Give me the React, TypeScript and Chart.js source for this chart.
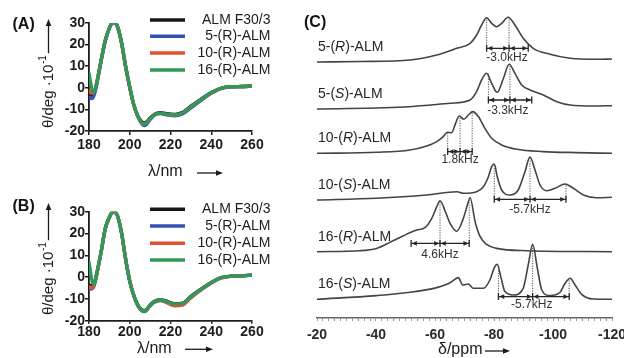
import React, { useEffect, useRef } from 'react';
import { Chart, registerables } from 'chart.js';

Chart.register(...registerables);

const FONT = '"Liberation Sans", Arial, Helvetica, sans-serif';
Chart.defaults.font.family = FONT;

// ================= Panels (A) and (B): CD spectra =================
const wavelengths = [180, 181, 182, 183, 184, 186, 188, 190, 191, 192, 193, 194, 196, 198, 200, 202, 204, 206, 207, 208, 210, 212, 215, 218, 222, 226, 230, 235, 240, 245, 250, 255, 260];
const seriesNames = ['ALM F30/3', '5-(R)-ALM', '10-(R)-ALM', '16-(R)-ALM'];
const seriesColors = ['#161616', '#3552b4', '#e4512f', '#2f9a57'];

const panelA_F30 = [-2.5, -3.5, -3, -1, 3, 13, 22, 27.8, 29.6, 30.3, 29.8, 28.2, 20.5, 9.5, 0, -8, -13, -15.8, -16.3, -16, -14, -12.3, -11.5, -12, -12.3, -11.3, -8.5, -5.2, -2.2, -0.1, 0.5, 0.6, 0.8];
const panelA_R5 = [-4, -5, -4.5, -2, 2.5, 12.5, 21.5, 27.5, 29.4, 30.2, 29.8, 28.3, 20.8, 10, 0.5, -8, -13.5, -16.8, -17.5, -17.2, -14.8, -12.8, -12, -12.5, -13, -12, -9.3, -5.8, -2.6, -0.3, 0.4, 0.6, 0.8];
const panelA_R10 = [-1, -2.5, -2.5, -0.5, 3.5, 13, 22, 27.8, 29.6, 30.3, 29.8, 28.2, 20.6, 9.8, 0.3, -8, -13.2, -16.2, -16.8, -16.5, -14.3, -12.5, -11.8, -12.3, -12.6, -11.6, -8.8, -5.4, -2.4, -0.2, 0.5, 0.6, 0.8];
const panelA_R16 = [7, 1.5, -2, -1, 3, 13, 22, 27.8, 29.7, 30.4, 30, 28.5, 21, 10, 0.5, -7.8, -13.2, -16.3, -16.8, -16.5, -14.3, -12.5, -11.7, -12.2, -12.6, -11.6, -8.8, -5.4, -2.3, -0.2, 0.5, 0.6, 0.8];

const panelB_F30 = [-3.5, -4, -3.5, -1.5, 2.5, 12, 22.5, 27.5, 29.3, 30, 29.6, 28, 20, 8, -2, -8.5, -12.8, -15, -15.3, -15, -12.8, -11.2, -10.3, -11, -12.2, -11.9, -8.8, -5.5, -2.4, -0.2, 0.4, 0.6, 0.9];
const panelB_R5 = [-5, -5.5, -5, -2.5, 2, 11.5, 22, 27.3, 29.2, 30, 29.6, 28, 20.2, 8.3, -1.7, -8.5, -13.2, -15.5, -15.8, -15.5, -13.2, -11.6, -10.8, -11.6, -13, -12.6, -9.4, -5.9, -2.7, -0.4, 0.4, 0.6, 0.9];
const panelB_R10 = [-4, -5, -4.5, -2, 2.3, 11.8, 22.3, 27.4, 29.3, 30, 29.6, 28, 20.1, 8.2, -1.8, -8.5, -13, -15.3, -15.6, -15.3, -13, -11.4, -10.6, -11.5, -13.2, -12.8, -9.4, -5.8, -2.6, -0.3, 0.4, 0.6, 0.9];
const panelB_R16 = [7, 1, -3.5, -2, 2.5, 12, 22.5, 27.5, 29.4, 30.1, 29.7, 28.1, 20.2, 8.2, -1.8, -8.4, -12.9, -15.2, -15.5, -15.2, -12.9, -11.3, -10.4, -11.2, -12.3, -12, -8.9, -5.6, -2.5, -0.2, 0.4, 0.6, 0.9];

const cdXMin = 180, cdXMax = 260, cdXStep = 20;
const cdYMin = -20, cdYMax = 30, cdYStep = 10;

// ================= Panel (C): 2H NMR spectra =================
const spectrumNumbers = ['5', '5', '10', '10', '16', '16'];
const spectrumConfigs = ['R', 'S', 'R', 'S', 'R', 'S'];

const ppm5R = [-20, -35, -51.5, -60.6, -67.4, -71.9, -74.1, -75.8, -77.5, -79.2, -80.9, -82.6, -84.8, -87.1, -89.9, -93.3, -99, -105.8, -114.8, -120];
const int5R = [0, 0.5, 2, 7, 13.7, 18.7, 27, 37, 44.3, 38.7, 35.3, 38.7, 44.7, 37, 23.7, 13.7, 7.7, 3.7, 2.7, 3];
const ppm5S = [-20, -51.5, -65.1, -71.9, -74.1, -75.8, -77.5, -79.2, -81.1, -83.2, -85.1, -87.1, -89.4, -92.2, -96.7, -101.3, -105.8, -113.7, -120];
const int5S = [0, 2.3, 5.7, 9, 17.3, 29, 35.7, 25.7, 16.7, 30.7, 44.7, 35.7, 24, 19, 14, 7.3, 4, 3, 3.3];
const ppm10R = [-20, -40.2, -51.5, -57.2, -60.6, -62.8, -64.2, -65.6, -67.1, -68.2, -69.8, -71.3, -72.8, -74.7, -76.9, -79.2, -82.6, -87.7, -96.7, -108, -120];
const int10R = [0, 1, 3.3, 7.3, 11.7, 16.7, 21, 20.5, 31, 37.3, 34, 38.3, 41.7, 36.7, 25, 15, 8.3, 4, 1.7, 0.7, 0];
const ppm10S = [-20, -40.2, -57.2, -67.4, -69.6, -74.1, -76.4, -78.1, -79.2, -80.1, -81.1, -82.6, -85.4, -88.2, -90.5, -92.2, -93.9, -95.6, -97.9, -100.7, -104.1, -106.9, -110.3, -114.8, -120];
const int10S = [0, 1.7, 5, 8.3, 6.7, 8.3, 13.3, 23.3, 33.3, 36, 23.3, 10, 5, 10, 28.3, 43, 30, 15, 9.3, 11.7, 16, 11.7, 5, 2.3, 2.7];
const ppm16R = [-20, -34.6, -40.2, -44.7, -49.3, -53.8, -56.6, -58.9, -60.6, -61.7, -63.4, -65.1, -67.4, -69.6, -70.9, -71.9, -73.6, -75.3, -77.5, -80.9, -91.1, -120];
const int16R = [0, 1, 3.3, 9.3, 16, 21.7, 24, 33.3, 45, 51, 41, 28.3, 20.5, 33.3, 46, 54, 30, 15, 7.3, 3.3, 1, 0];
const ppm16S = [-20, -40.2, -51.5, -60.6, -64, -65.7, -67.9, -69.4, -71.3, -73, -76.4, -78.6, -80, -81.1, -82.3, -83.7, -86.5, -89.9, -91.6, -93.1, -94.7, -96.2, -99, -102.4, -104.1, -105.8, -107.5, -109.7, -113.7, -120];
const int16S = [0, 3.7, 7, 11.7, 15, 17.7, 21.7, 14.3, 15.3, 11, 11, 19.3, 31, 35, 22.7, 7.7, 4.3, 11, 34.3, 55, 31, 9.3, 3.7, 7, 16, 21, 14.3, 5, 0.3, 0];

const spectraPpm = [ppm5R, ppm5S, ppm10R, ppm10S, ppm16R, ppm16S];
const spectraInt = [int5R, int5S, int10R, int10S, int16R, int16S];

const ppmMin = -120, ppmMax = -20, ppmMinorStep = 2, ppmLabelStep = 20;

// quadrupolar splittings (ppm positions, bracket level, peak tops, label)
const splitLabels = ['-3.0kHz', '-3.3kHz', '1.8kHz', '-5.7kHz', '4.6kHz', '-5.7kHz'];
const splitPpm = [[-77.5, -85.1, -91.6], [-78.1, -85.4, -92.8], [-64.3, -68.5, -72.6], [-80.1, -92.2, -104.4], [-51.9, -61.7, -71.6], [-81.5, -93.1, -105.5]];
const splitLevel = [13.7, 9, 1.7, 0.7, 8.3, 2.7];
const splitPeakTop = [[44.3, 44.7, null], [35.7, 44.7, null], [21, 37.3, 41.7], [36, 43, 16], [null, 51, 54], [35, 55, 21]];
const splitLabelPpm = [-84.4, -84.7, -68.5, -92.2, -61.7, -92.8];
const splitLabelLevel = [4.5, -2, -6.7, -9.5, -2.6, -5.7];

// per-spectrum axis range (intensity units)
const spectrumAxisMin = [-18, -18.6, -21.9, -22.8, -18.7, -18.7];
const SPECTRUM_SPAN = 47.6;

// ================= helpers =================
function arrowHead(ctx: CanvasRenderingContext2D, x: number, y: number, angle: number, len: number, half: number) {
  ctx.save();
  ctx.translate(x, y);
  ctx.rotate(angle);
  ctx.beginPath();
  ctx.moveTo(0, 0);
  ctx.lineTo(-len, -half);
  ctx.lineTo(-len, half);
  ctx.closePath();
  ctx.fill();
  ctx.restore();
}

type CdPanel = {
  letter: string;
  series: number[][];
  height: number;
  top: number;
  xAxisH: number;
  tickLen: number;
  tickPad: number;
  letterY: number;
  legendRows: number[];
  yTitleBottom: number;
  yArrowTip: number;
  xTitleX: number;
  xTitleY: number;
  xArrow: number[];
};

function cdConfig(p: CdPanel): any {
  const decor = {
    id: 'cdDecor' + p.letter,
    afterDraw(chart: any) {
      const ctx: CanvasRenderingContext2D = chart.ctx;
      ctx.save();
      ctx.textBaseline = 'middle';
      ctx.textAlign = 'left';
      ctx.fillStyle = '#141414';
      ctx.font = `bold 16px ${FONT}`;
      ctx.fillText(`(${p.letter})`, 12.5, p.letterY);
      // legend
      seriesNames.forEach((name, i) => {
        const y = p.legendRows[i];
        ctx.strokeStyle = seriesColors[i];
        ctx.lineWidth = 3.5;
        ctx.beginPath();
        ctx.moveTo(150, y);
        ctx.lineTo(185, y);
        ctx.stroke();
        ctx.fillStyle = '#1c1c1c';
        ctx.font = `14px ${FONT}`;
        ctx.textAlign = 'right';
        ctx.fillText(name, 270.5, y);
      });
      // y title (rotated) with arrow
      ctx.save();
      ctx.translate(48.5, p.yTitleBottom);
      ctx.rotate(-Math.PI / 2);
      ctx.textAlign = 'left';
      ctx.fillStyle = '#1c1c1c';
      ctx.font = `15px ${FONT}`;
      const main = 'θ/deg ·10';
      ctx.fillText(main, 0, 0);
      let w = ctx.measureText(main).width;
      ctx.font = `10px ${FONT}`;
      ctx.fillText('-1', w + 0.5, -5);
      w += ctx.measureText('-1').width + 0.5;
      const len = p.yTitleBottom - p.yArrowTip;
      ctx.strokeStyle = '#1c1c1c';
      ctx.lineWidth = 1.3;
      ctx.beginPath();
      ctx.moveTo(w + 2, 0);
      ctx.lineTo(len - 5, 0);
      ctx.stroke();
      arrowHead(ctx, len, 0, 0, 7, 2.8);
      ctx.restore();
      // x title with arrow
      ctx.textAlign = 'left';
      ctx.fillStyle = '#1c1c1c';
      ctx.font = `16px ${FONT}`;
      ctx.fillText('λ/nm', p.xTitleX, p.xTitleY);
      ctx.strokeStyle = '#1c1c1c';
      ctx.lineWidth = 1.3;
      ctx.beginPath();
      ctx.moveTo(p.xArrow[0], p.xTitleY + 1);
      ctx.lineTo(p.xArrow[1] - 5, p.xTitleY + 1);
      ctx.stroke();
      arrowHead(ctx, p.xArrow[1], p.xTitleY + 1, 0, 7, 2.8);
      ctx.restore();
    },
  };

  const drawOrder = [3, 2, 1, 0];
  return {
    type: 'line',
    data: {
      datasets: seriesNames.map((name, i) => ({
        label: name,
        data: wavelengths.map((w, k) => ({ x: w, y: p.series[i][k] })),
        borderColor: seriesColors[i],
        backgroundColor: seriesColors[i],
        borderWidth: 3.3,
        pointRadius: 0,
        cubicInterpolationMode: 'monotone',
        fill: false,
        order: drawOrder[i],
      })),
    },
    options: {
      animation: false,
      responsive: false,
      events: [],
      layout: { autoPadding: false, padding: { left: 0, top: p.top, right: 58, bottom: 0 } },
      plugins: { legend: { display: false }, tooltip: { enabled: false }, title: { display: false } },
      scales: {
        x: {
          type: 'linear',
          min: cdXMin,
          max: cdXMax,
          ticks: { stepSize: cdXStep, autoSkip: false, maxRotation: 0, padding: p.tickPad, color: '#1c1c1c', font: { size: 14, weight: 'bold' } },
          grid: { drawOnChartArea: false, drawTicks: true, tickLength: p.tickLen, color: '#1c1c1c', lineWidth: 1.5 },
          border: { color: '#1c1c1c', width: 1.8 },
          afterFit(s: any) { s.height = p.xAxisH; s.paddingLeft = 0; s.paddingRight = 0; },
        },
        y: {
          type: 'linear',
          min: cdYMin,
          max: cdYMax,
          ticks: { stepSize: cdYStep, autoSkip: false, padding: 0, color: '#1c1c1c', font: { size: 14, weight: 'bold' } },
          grid: { drawOnChartArea: false, drawTicks: true, tickLength: 4, color: '#1c1c1c', lineWidth: 1.5 },
          border: { color: '#1c1c1c', width: 1.8 },
          afterFit(s: any) { s.width = 89; s.paddingTop = 0; s.paddingBottom = 0; },
        },
      },
    },
    plugins: [decor],
  };
}

function nmrConfig(): any {
  const yScales: any = {};
  spectraPpm.forEach((_, i) => {
    yScales['y' + i] = {
      type: 'linear',
      position: 'left',
      stack: 'spectra',
      stackWeight: 1,
      weight: 6 - i,
      min: spectrumAxisMin[i],
      max: spectrumAxisMin[i] + SPECTRUM_SPAN,
      ticks: { display: false },
      grid: { display: false, drawTicks: false },
      border: { display: false },
      afterFit(s: any) { s.width = 0; s.paddingTop = 0; s.paddingBottom = 0; },
    };
  });

  const decor = {
    id: 'nmrDecor',
    afterDraw(chart: any) {
      const ctx: CanvasRenderingContext2D = chart.ctx;
      const xs = chart.scales.x;
      ctx.save();
      ctx.textBaseline = 'middle';
      ctx.textAlign = 'left';
      ctx.fillStyle = '#141414';
      ctx.font = `bold 16px ${FONT}`;
      ctx.fillText('(C)', 9, 23);
      for (let i = 0; i < spectraPpm.length; i++) {
        const ys = chart.scales['y' + i];
        // spectrum name with italic configuration letter
        let x = 23;
        const y = ys.getPixelForValue(15);
        const parts: [string, boolean][] = [[spectrumNumbers[i] + '-(', false], [spectrumConfigs[i], true], [')-ALM', false]];
        ctx.fillStyle = '#262626';
        ctx.textAlign = 'left';
        for (const [t, it] of parts) {
          ctx.font = `${it ? 'italic ' : ''}14px ${FONT}`;
          ctx.fillText(t, x, y);
          x += ctx.measureText(t).width;
        }
        // splitting bracket
        const px = splitPpm[i].map((v) => xs.getPixelForValue(v));
        const by = ys.getPixelForValue(splitLevel[i]);
        ctx.strokeStyle = '#555';
        ctx.lineWidth = 1;
        ctx.setLineDash([1.2, 1.3]);
        splitPeakTop[i].forEach((t, k) => {
          if (t == null) return;
          ctx.beginPath();
          ctx.moveTo(px[k], by);
          ctx.lineTo(px[k], ys.getPixelForValue(t));
          ctx.stroke();
        });
        ctx.setLineDash([]);
        ctx.strokeStyle = '#262626';
        ctx.lineWidth = 1.3;
        ctx.beginPath();
        ctx.moveTo(px[0], by);
        ctx.lineTo(px[2], by);
        px.forEach((v) => { ctx.moveTo(v, by - 3.5); ctx.lineTo(v, by + 3.5); });
        ctx.stroke();
        ctx.fillStyle = '#262626';
        for (let k = 0; k < 2; k++) {
          arrowHead(ctx, px[k] + 0.8, by, Math.PI, 5, 2.4);
          arrowHead(ctx, px[k + 1] - 0.8, by, 0, 5, 2.4);
        }
        ctx.font = `12px ${FONT}`;
        ctx.textAlign = 'center';
        ctx.fillStyle = '#333';
        ctx.fillText(splitLabels[i], xs.getPixelForValue(splitLabelPpm[i]), ys.getPixelForValue(splitLabelLevel[i]));
      }
      // x title with arrow
      ctx.textAlign = 'left';
      ctx.fillStyle = '#1c1c1c';
      ctx.font = `16px ${FONT}`;
      ctx.fillText('δ/ppm', 143, 350);
      ctx.strokeStyle = '#1c1c1c';
      ctx.lineWidth = 1.3;
      ctx.beginPath();
      ctx.moveTo(190, 351);
      ctx.lineTo(210, 351);
      ctx.stroke();
      arrowHead(ctx, 215, 351, 0, 7, 2.8);
      ctx.restore();
    },
  };

  return {
    type: 'line',
    data: {
      datasets: spectraPpm.map((ppm, i) => ({
        label: `${spectrumNumbers[i]}-(${spectrumConfigs[i]})-ALM`,
        data: ppm.map((v, k) => ({ x: v, y: spectraInt[i][k] })),
        yAxisID: 'y' + i,
        xAxisID: 'x',
        borderColor: '#444',
        borderWidth: 1.6,
        pointRadius: 0,
        cubicInterpolationMode: 'monotone',
        fill: false,
        clip: false,
      })),
    },
    options: {
      animation: false,
      responsive: false,
      events: [],
      layout: { autoPadding: false, padding: { left: 22, top: 32.4, right: 12, bottom: 0 } },
      plugins: { legend: { display: false }, tooltip: { enabled: false }, title: { display: false } },
      scales: {
        x: {
          type: 'linear',
          position: 'bottom',
          reverse: true,
          min: ppmMin,
          max: ppmMax,
          ticks: {
            stepSize: ppmMinorStep,
            autoSkip: false,
            maxRotation: 0,
            padding: 6,
            color: '#2a2a2a',
            font: { size: 14, weight: 'bold' },
            callback: (v: any) => (Math.round(Number(v)) % ppmLabelStep === 0 ? String(Math.round(Number(v))) : ''),
          },
          grid: { drawOnChartArea: false, drawTicks: true, tickLength: 3, color: '#9a9a9a', lineWidth: 1 },
          border: { color: '#666', width: 1.5 },
          afterFit(s: any) { s.height = 40; s.paddingLeft = 0; s.paddingRight = 0; },
        },
        ...yScales,
      },
    },
    plugins: [decor],
  };
}

const panelA: CdPanel = {
  letter: 'A',
  series: [panelA_F30, panelA_R5, panelA_R10, panelA_R16],
  height: 190,
  top: 23,
  xAxisH: 59,
  tickLen: 4,
  tickPad: 2,
  letterY: 25,
  legendRows: [20, 36.3, 53, 70],
  yTitleBottom: 128,
  yArrowTip: 19,
  xTitleX: 148,
  xTitleY: 172,
  xArrow: [197, 223],
};

const panelB: CdPanel = {
  letter: 'B',
  series: [panelB_F30, panelB_R5, panelB_R10, panelB_R16],
  height: 180,
  top: 33.7,
  xAxisH: 37.3,
  tickLen: 3,
  tickPad: 0,
  letterY: 29,
  legendRows: [31.3, 48, 65.3, 82],
  yTitleBottom: 137,
  yArrowTip: 25,
  xTitleX: 137,
  xTitleY: 170.3,
  xArrow: [185, 213],
};

export default function App() {
  const refA = useRef<HTMLCanvasElement>(null);
  const refB = useRef<HTMLCanvasElement>(null);
  const refC = useRef<HTMLCanvasElement>(null);

  useEffect(() => {
    const charts = [
      new Chart(refA.current as HTMLCanvasElement, cdConfig(panelA)),
      new Chart(refB.current as HTMLCanvasElement, cdConfig(panelB)),
      new Chart(refC.current as HTMLCanvasElement, nmrConfig()),
    ];
    return () => charts.forEach((c) => c.destroy());
  }, []);

  return (
    <div style={{ position: 'fixed', left: 0, top: 0, width: 624, height: 358, background: '#ffffff', overflow: 'hidden' }}>
      <canvas ref={refA} width={310} height={190} style={{ position: 'absolute', left: 0, top: 0, width: 310, height: 190 }} />
      <canvas ref={refB} width={310} height={180} style={{ position: 'absolute', left: 0, top: 178, width: 310, height: 180 }} />
      <canvas ref={refC} width={329} height={358} style={{ position: 'absolute', left: 295, top: 0, width: 329, height: 358 }} />
    </div>
  );
}
